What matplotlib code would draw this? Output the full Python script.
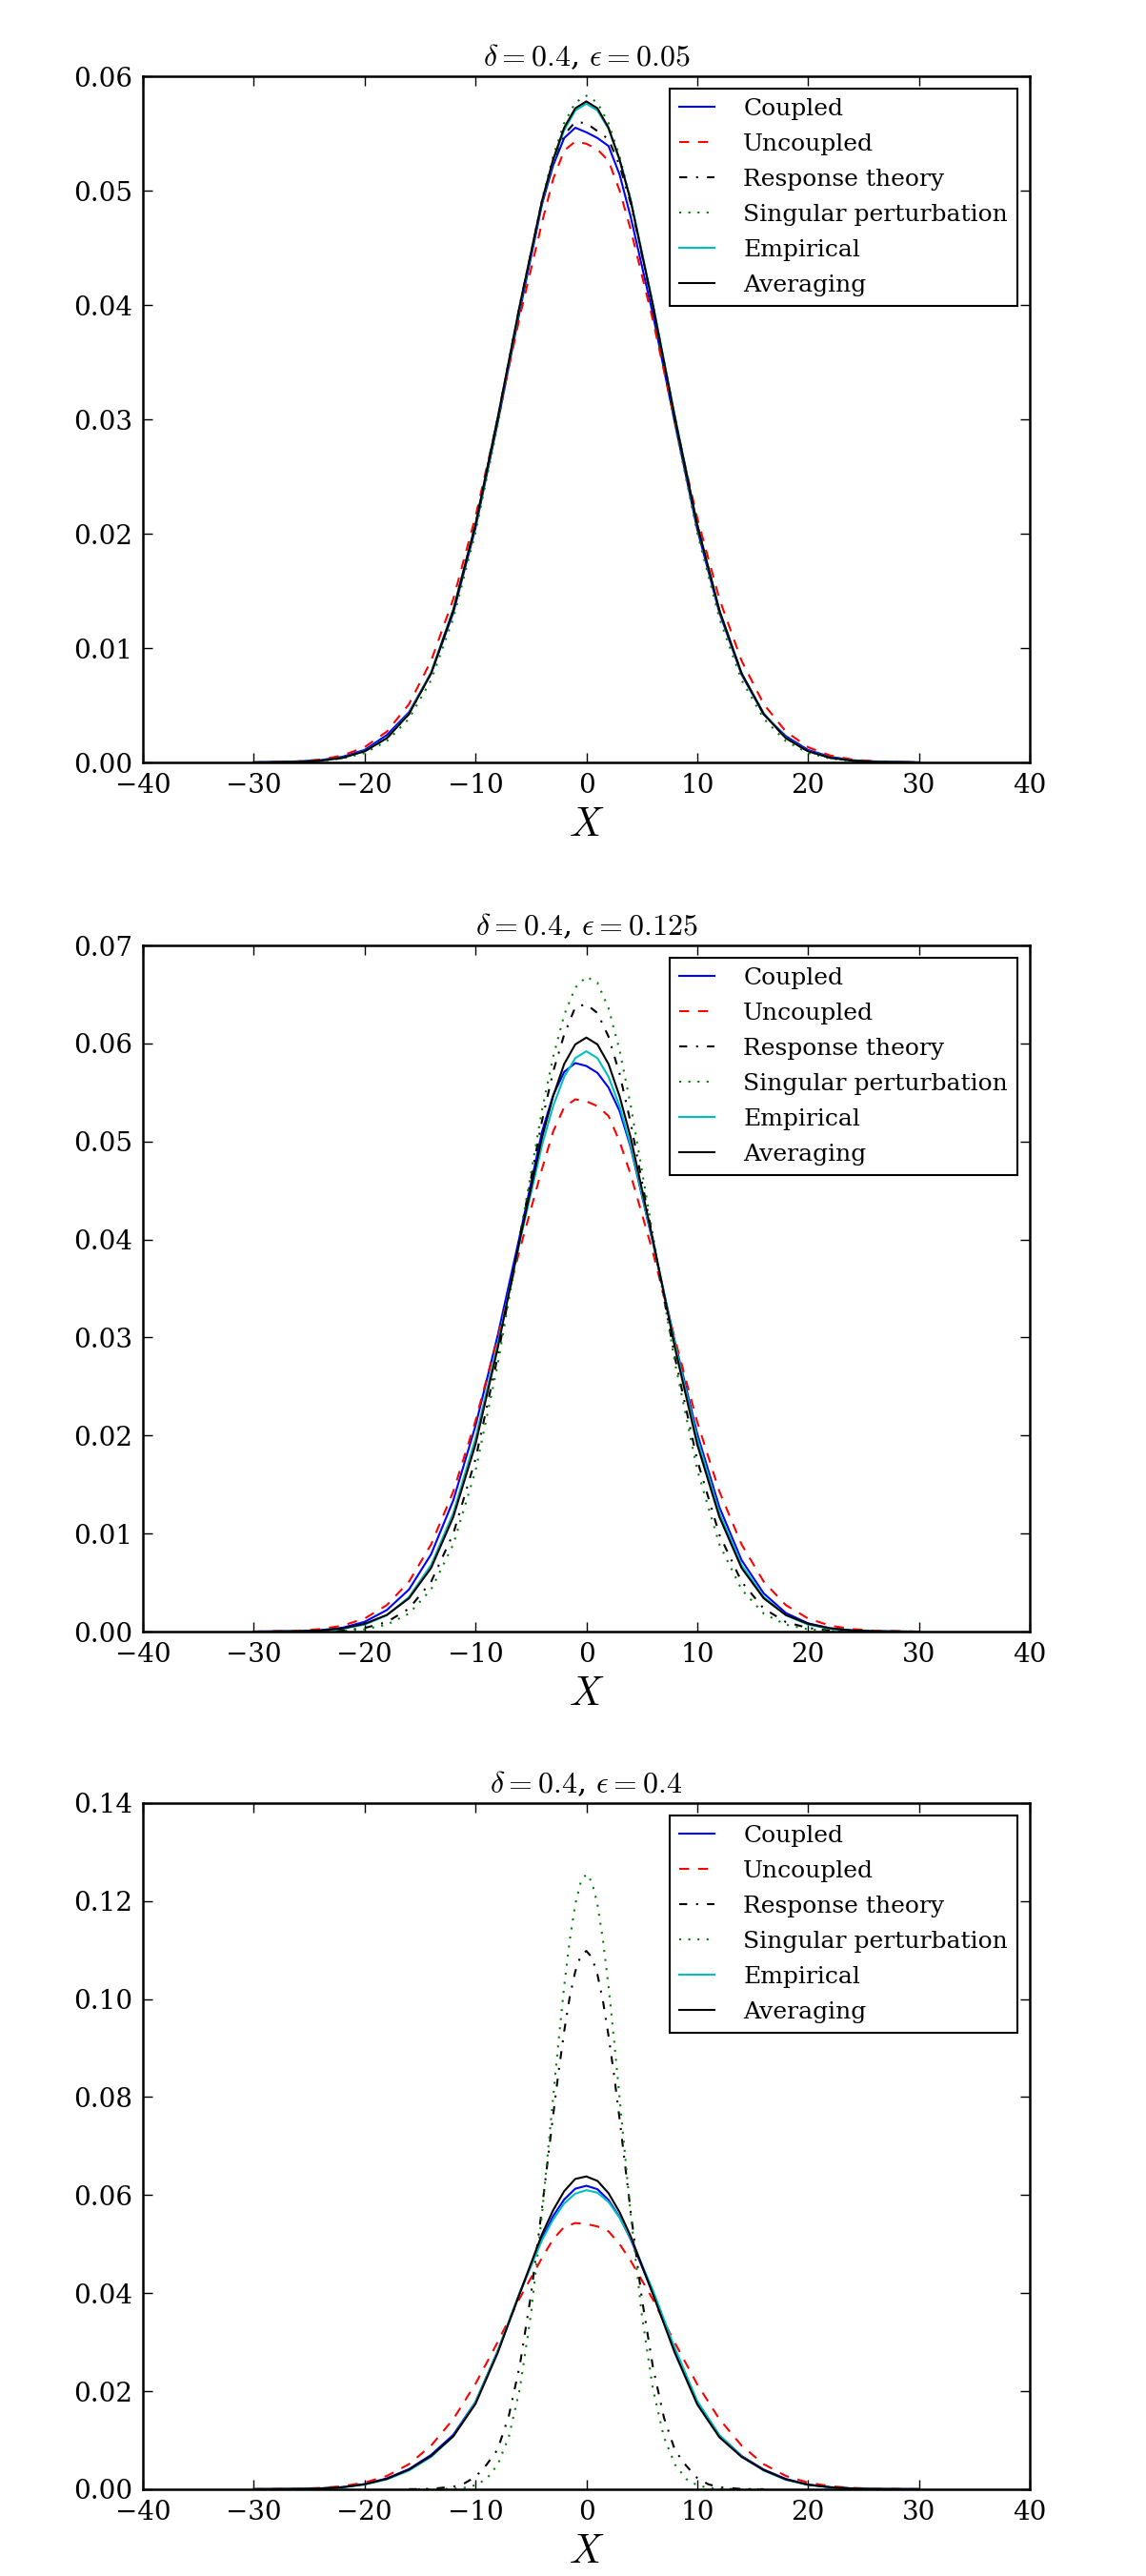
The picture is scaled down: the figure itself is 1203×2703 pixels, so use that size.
#!/usr/bin/env python3
"""
Stationary densities of X for three values of epsilon (delta = 0.4).
"""
import matplotlib
matplotlib.use('Agg')
import matplotlib.pyplot as plt
from matplotlib.ticker import FormatStrFormatter

plt.rcParams['font.family'] = 'DejaVu Serif'
plt.rcParams['mathtext.fontset'] = 'cm'

# x grids
x_wide = [-30, -26, -24, -22, -20, -18, -16, -14, -12, -10, -8, -6, -4, -3, -2, -1, 0,
          1, 2, 3, 4, 6, 8, 10, 12, 14, 16, 18, 20, 22, 24, 26, 30]
x_narrow = [-16, -14, -12, -11, -10, -9, -8, -7, -6, -5, -4, -3, -2.5, -2, -1.5, -1, -0.5, 0,
            0.5, 1, 1.5, 2, 2.5, 3, 4, 5, 6, 7, 8, 9, 10, 11, 12, 14, 16]

# uncoupled density does not depend on epsilon
uncoupled = [0.00001, 0.0001, 0.00026, 0.00061, 0.00134, 0.0027, 0.0051, 0.0089, 0.0143, 0.0215,
             0.0300, 0.0390, 0.0472, 0.0510, 0.0535, 0.0543, 0.0541, 0.0536, 0.0526, 0.0500,
             0.0466, 0.0387, 0.0298, 0.0214, 0.0143, 0.0089, 0.0051, 0.0027, 0.00134, 0.00061,
             0.00026, 0.0001, 0.00001]

# epsilon = 0.05
coupled_1 = [0.00001, 0.0001, 0.0002, 0.0005, 0.0011, 0.0024, 0.0044, 0.0078, 0.0131, 0.0205,
             0.0297, 0.0395, 0.0488, 0.0522, 0.0546, 0.0555, 0.0551, 0.0546, 0.0539, 0.0514,
             0.0477, 0.0392, 0.0296, 0.0204, 0.0131, 0.0077, 0.0042, 0.0023, 0.0011, 0.0005,
             0.0002, 0.0001, 0.00001]
response_1 = [0.00001, 0.00006, 0.00016, 0.00041, 0.00098, 0.00212, 0.00424, 0.0078, 0.0133, 0.0208,
              0.0301, 0.0400, 0.0490, 0.0525, 0.0549, 0.0560, 0.0559, 0.0552, 0.0545, 0.0522,
              0.0489, 0.0400, 0.0301, 0.0208, 0.0133, 0.0078, 0.00424, 0.00212, 0.00098, 0.00041,
              0.00016, 0.00006, 0.00001]
singular_1 = [0.0, 0.00004, 0.00013, 0.00034, 0.00083, 0.00186, 0.00383, 0.0072, 0.0126, 0.0201,
              0.0295, 0.0398, 0.0492, 0.0530, 0.0559, 0.0577, 0.0583, 0.0577, 0.0559, 0.0530,
              0.0492, 0.0398, 0.0295, 0.0201, 0.0126, 0.0072, 0.00383, 0.00186, 0.00083, 0.00034,
              0.00013, 0.00004, 0.0]
empirical_1 = [0.00001, 0.00006, 0.00016, 0.00042, 0.001, 0.00215, 0.0043, 0.0079, 0.0134, 0.0208,
               0.0301, 0.0399, 0.0490, 0.0526, 0.0553, 0.0570, 0.0576, 0.0570, 0.0554, 0.0527,
               0.0492, 0.0401, 0.0302, 0.0208, 0.0133, 0.0078, 0.0043, 0.00215, 0.001, 0.00042,
               0.00016, 0.00006, 0.00001]
averaging_1 = [0.00001, 0.00006, 0.00016, 0.00041, 0.00098, 0.00212, 0.00424, 0.0078, 0.0133, 0.0208,
               0.0301, 0.0400, 0.0491, 0.0527, 0.0555, 0.0572, 0.0578, 0.0572, 0.0555, 0.0527,
               0.0491, 0.0400, 0.0301, 0.0208, 0.0133, 0.0078, 0.00424, 0.00212, 0.00098, 0.00041,
               0.00016, 0.00006, 0.00001]

# epsilon = 0.125
coupled_2 = [0.00001, 0.00006, 0.00015, 0.0004, 0.001, 0.0022, 0.0043, 0.0079, 0.0134, 0.0210,
             0.0302, 0.0404, 0.0510, 0.0547, 0.0571, 0.0580, 0.0577, 0.0570, 0.0555, 0.0531,
             0.0494, 0.0397, 0.0295, 0.0202, 0.0127, 0.0073, 0.0039, 0.0019, 0.00085, 0.00035,
             0.00013, 0.00005, 0.0]
response_2 = [0.0, 0.00001, 0.00004, 0.00012, 0.00037, 0.00098, 0.00235, 0.0051, 0.0100, 0.0176,
              0.0280, 0.0403, 0.0521, 0.0571, 0.0609, 0.0637, 0.0640, 0.0631, 0.0607, 0.0569,
              0.0519, 0.0401, 0.0279, 0.0175, 0.0099, 0.0051, 0.00235, 0.00098, 0.00037, 0.00012,
              0.00004, 0.00001, 0.0]
singular_2 = [0.0, 0.0, 0.00002, 0.00008, 0.00024, 0.00071, 0.00184, 0.0043, 0.0089, 0.0164,
              0.0272, 0.0403, 0.0532, 0.0586, 0.0629, 0.0657, 0.0668, 0.0662, 0.0636, 0.0593,
              0.0537, 0.0405, 0.0274, 0.0165, 0.0089, 0.0043, 0.00184, 0.00071, 0.00024, 0.00008,
              0.00002, 0.0, 0.0]
empirical_2 = [0.0, 0.00003, 0.0001, 0.00029, 0.00072, 0.00167, 0.00353, 0.0068, 0.0121, 0.0197,
               0.0293, 0.0398, 0.0496, 0.0536, 0.0566, 0.0585, 0.0592, 0.0585, 0.0566, 0.0536,
               0.0496, 0.0398, 0.0293, 0.0197, 0.0121, 0.0068, 0.00353, 0.00167, 0.00072, 0.00029,
               0.0001, 0.00003, 0.0]
averaging_2 = [0.0, 0.00004, 0.00012, 0.00033, 0.0008, 0.0017, 0.0034, 0.0065, 0.0117, 0.0191,
               0.0289, 0.0400, 0.0504, 0.0546, 0.0579, 0.0599, 0.0606, 0.0599, 0.0579, 0.0546,
               0.0504, 0.0400, 0.0289, 0.0191, 0.0117, 0.0065, 0.0034, 0.0017, 0.0008, 0.00033,
               0.00012, 0.00004, 0.0]

# epsilon = 0.4
coupled_3 = [0.00001, 0.00006, 0.00016, 0.00042, 0.00105, 0.0022, 0.0041, 0.0070, 0.0111, 0.0178,
             0.0281, 0.0400, 0.0512, 0.0557, 0.0591, 0.0613, 0.0619, 0.0612, 0.0590, 0.0555,
             0.0510, 0.0400, 0.0282, 0.0178, 0.0110, 0.0068, 0.0040, 0.0021, 0.00095, 0.0004,
             0.00015, 0.00005, 0.00001]
response_3 = [0.0, 0.00008, 0.0005, 0.0012, 0.0025, 0.0050, 0.0081, 0.0149, 0.0253, 0.0396,
              0.0573, 0.0762, 0.0852, 0.0934, 0.1004, 0.1056, 0.1089, 0.1098,
              0.1085, 0.1050, 0.0996, 0.0925, 0.0845, 0.0755, 0.0566, 0.0390,
              0.0250, 0.0146, 0.0079, 0.0048, 0.0023, 0.0010, 0.0004, 0.00004, 0.0]
singular_3 = [0.0, 0.0, 0.00009, 0.00028, 0.00081, 0.0021, 0.0050, 0.0106, 0.0205, 0.0356,
              0.0561, 0.0798, 0.0916, 0.1026, 0.1120, 0.1193, 0.1239, 0.1255,
              0.1239, 0.1193, 0.1120, 0.1026, 0.0916, 0.0798, 0.0561, 0.0356,
              0.0205, 0.0106, 0.0050, 0.0021, 0.00081, 0.00028, 0.00009, 0.0, 0.0]
empirical_3 = [0.00001, 0.00005, 0.00014, 0.00038, 0.00095, 0.0020, 0.0038, 0.0066, 0.0108, 0.0178,
               0.0282, 0.0402, 0.0508, 0.0550, 0.0583, 0.0603, 0.0610, 0.0605, 0.0586, 0.0554,
               0.0512, 0.0406, 0.0287, 0.0180, 0.0110, 0.0067, 0.0038, 0.0019, 0.00088, 0.00036,
               0.00013, 0.00004, 0.00001]
averaging_3 = [0.00001, 0.00006, 0.00015, 0.0004, 0.0010, 0.0021, 0.0040, 0.0068, 0.0108, 0.0174,
               0.0278, 0.0400, 0.0520, 0.0569, 0.0608, 0.0633, 0.0638, 0.0629, 0.0604, 0.0565,
               0.0516, 0.0398, 0.0277, 0.0173, 0.0106, 0.0066, 0.0039, 0.0020, 0.0009, 0.0004,
               0.00015, 0.00005, 0.00001]

titles = [r'$\delta=0.4$, $\epsilon=0.05$', r'$\delta=0.4$, $\epsilon=0.125$',
          r'$\delta=0.4$, $\epsilon=0.4$']
ymaxes = [0.06, 0.07, 0.14]
ysteps = [0.01, 0.01, 0.02]
panels = [
    (coupled_1, response_1, singular_1, empirical_1, averaging_1, x_wide),
    (coupled_2, response_2, singular_2, empirical_2, averaging_2, x_wide),
    (coupled_3, response_3, singular_3, empirical_3, averaging_3, x_narrow),
]
bottoms = [0.7040, 0.3666, 0.0337]

fig = plt.figure(figsize=(12.03, 27.03), dpi=100)

for i, (coup, resp, sing, emp, avg, x_th) in enumerate(panels):
    ax = fig.add_axes([0.1247, bottoms[i], 0.7739, 0.2664])
    ax.plot(x_wide, coup, color='b', lw=1.5, label='Coupled')
    ax.plot(x_wide, uncoupled, color='r', lw=1.5, dashes=(5, 4.5), label='Uncoupled')
    ax.plot(x_th, resp, color='k', lw=1.5, dashes=(4, 4.5, 1, 4.5), label='Response theory')
    ax.plot(x_th, sing, color=(0, 0.5, 0), lw=1.5, dashes=(1, 3.6),
            label='Singular perturbation')
    ax.plot(x_wide, emp, color=(0, 0.75, 0.75), lw=1.5, label='Empirical')
    ax.plot(x_wide, avg, color='k', lw=1.5, label='Averaging')

    ax.set_xlim(-40, 40)
    ax.set_ylim(0, ymaxes[i])
    ax.set_xticks(range(-40, 41, 10))
    n = int(round(ymaxes[i] / ysteps[i]))
    ax.set_yticks([k * ysteps[i] for k in range(n + 1)])
    ax.yaxis.set_major_formatter(FormatStrFormatter('%.2f'))
    ax.tick_params(direction='in', top=True, right=True, length=7, width=1,
                   labelsize=20, pad=8)
    for sp in ax.spines.values():
        sp.set_linewidth(1.8)

    ax.set_title(titles[i], fontsize=23, pad=8)
    ax.set_xlabel(r'$X$', fontsize=30, labelpad=4)

    leg = ax.legend(loc='upper right', fontsize=18, handlelength=1.5, handletextpad=1.2,
                    borderaxespad=0.52, fancybox=False, framealpha=1, edgecolor='k',
                    labelspacing=0.56)
    leg.get_frame().set_linewidth(1.5)

fig.savefig('out.png', dpi=100)
print("Saved: out.png")
